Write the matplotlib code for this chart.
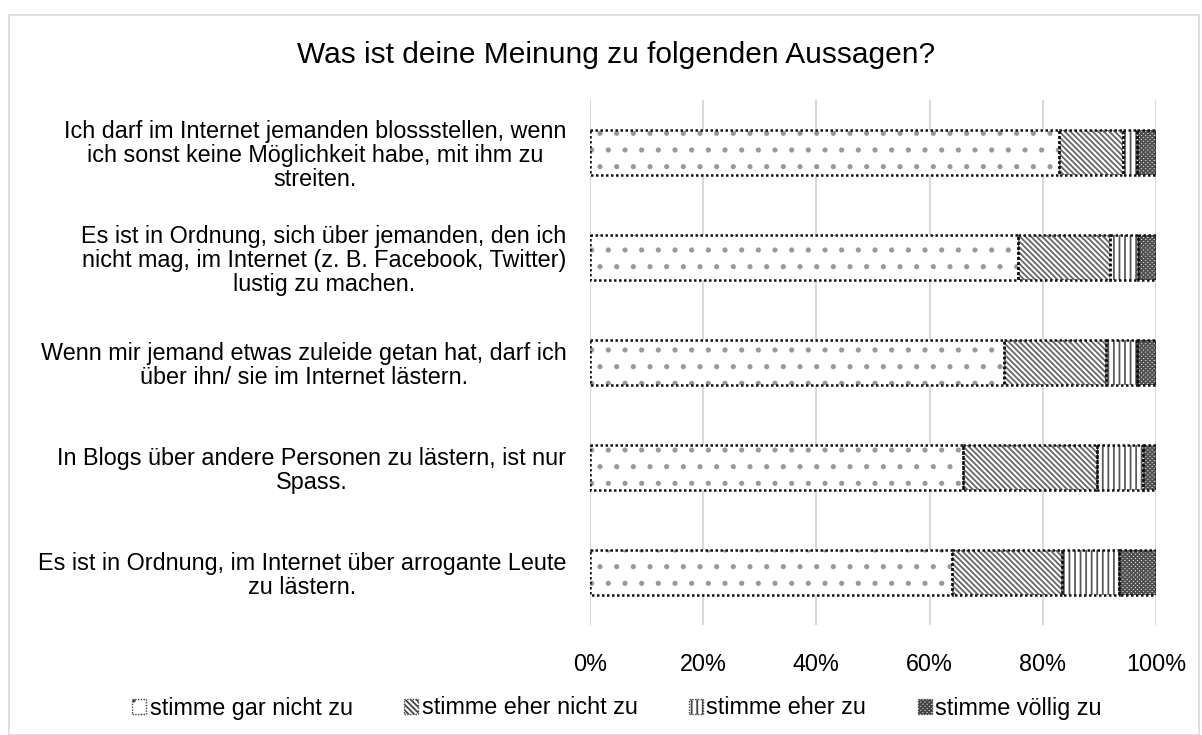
import matplotlib.pyplot as plt
import numpy as np
from matplotlib.patches import Rectangle, Patch

plt.rcParams['font.family'] = ['Liberation Sans', 'DejaVu Sans']
plt.rcParams['hatch.linewidth'] = 1.3

# Data (percent of answers)
statements = [
    "Ich darf im Internet jemanden blossstellen, wenn\nich sonst keine Möglichkeit habe, mit ihm zu\nstreiten.",
    "Es ist in Ordnung, sich über jemanden, den ich\nnicht mag, im Internet (z. B. Facebook, Twitter)\nlustig zu machen.",
    "Wenn mir jemand etwas zuleide getan hat, darf ich\nüber ihn/ sie im Internet lästern.",
    "In Blogs über andere Personen zu lästern, ist nur\nSpass.",
    "Es ist in Ordnung, im Internet über arrogante Leute\nzu lästern.",
]
series = ["stimme gar nicht zu", "stimme eher nicht zu", "stimme eher zu", "stimme völlig zu"]
gar_nicht = np.array([82.9, 75.6, 73.1, 65.9, 64.0])
eher_nicht = np.array([11.3, 16.3, 18.1, 23.7, 19.4])
eher_zu = np.array([2.4, 4.9, 5.4, 8.1, 10.1])
voellig = np.array([3.4, 3.2, 3.4, 2.3, 6.5])
ticks = [0, 20, 40, 60, 80, 100]

hatches = ['.', '\\' * 6, '|||', 'xxxxxxxx']
hatch_colors = ['#999999', '#666666', '#5a5a5a', '#505050']

fig = plt.figure(figsize=(12.02, 7.35), dpi=100)
fig.patches.append(Rectangle((9 / 1202, 0), 1190 / 1202, 1 - 15 / 735, transform=fig.transFigure,
                             fill=False, edgecolor='#d9d9d9', linewidth=1.2))
ax = fig.add_axes([590 / 1202, 1 - 625 / 735, 566 / 1202, 525 / 735])

y = np.arange(len(statements))
left = np.zeros(len(statements))
handles = []
for vals, name, h, hc in zip([gar_nicht, eher_nicht, eher_zu, voellig], series, hatches, hatch_colors):
    # hatch layer (grey pattern), then dotted black outline on top
    ax.barh(y, vals, left=left, height=0.42, facecolor='white',
            edgecolor=hc, hatch=h, linewidth=0, zorder=3)
    ax.barh(y, vals, left=left, height=0.42, fill=False, edgecolor='#111111',
            linestyle=(0, (1, 1)), linewidth=1.8, zorder=4)
    left = left + vals
    handles.append(Patch(facecolor='white', edgecolor='#444444', hatch=h,
                         linestyle=(0, (1, 1)), linewidth=1.0, label=name))

ax.set_xlim(0, 100)
ax.set_ylim(len(statements) - 0.5, -0.5)
ax.set_xticks(ticks)
ax.set_xticklabels([f'{t}%' for t in ticks])
ax.set_yticks(y)
ax.set_yticklabels(statements, multialignment='center', linespacing=1.05)
ax.tick_params(axis='both', length=0, labelsize=16.8)
ax.tick_params(axis='x', pad=20)
ax.tick_params(axis='y', pad=17)
ax.grid(axis='x', color='#d9d9d9', linewidth=1.5, zorder=0)
ax.set_axisbelow(True)
for s in ax.spines.values():
    s.set_visible(False)

fig.text(616 / 1202, 1 - 55 / 735, 'Was ist deine Meinung zu folgenden Aussagen?',
         ha='center', va='center', fontsize=21.5)

fig.legend(handles=handles, loc='center', bbox_to_anchor=(617 / 1202, 1 - 708 / 735), ncol=4,
           frameon=False, fontsize=16.8, handlelength=0.6, handleheight=0.6,
           handletextpad=0.15, columnspacing=2.2)

fig.savefig('out.png', dpi=100)
